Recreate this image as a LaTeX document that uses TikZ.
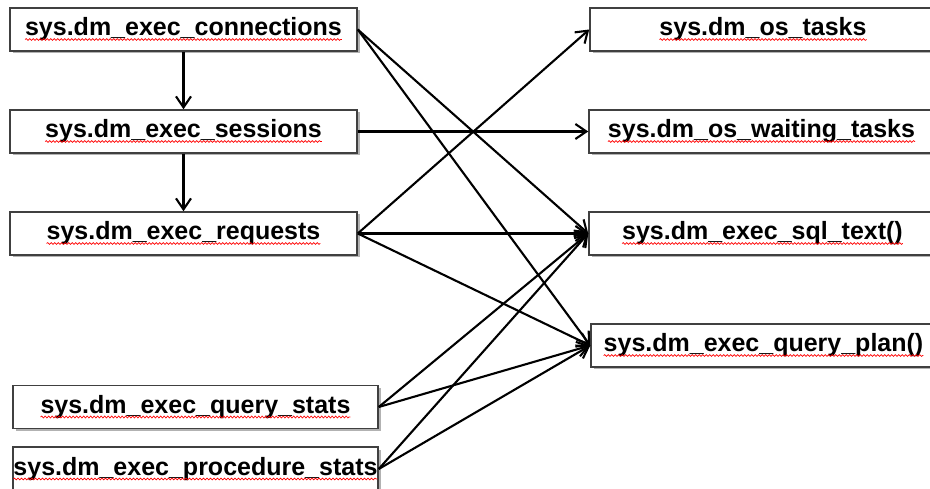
\documentclass[tikz,border=0pt]{standalone}
\usepackage{fontspec}
\setmainfont{Liberation Sans}
\usetikzlibrary{arrows.meta,shadows,decorations.pathmorphing}
\newcommand\wt[2]{\settowidth{\dimen0}{#2}\expandafter\xdef\csname wl#1\endcsname{\the\dimen0}#2}
\tikzset{
  box/.style={draw=black!75, line width=1.5pt, fill=white, minimum height=43pt,
    text height=18pt, text depth=5pt, inner sep=0pt,
    font=\fontsize{25}{30}\selectfont\bfseries,
    drop shadow={shadow xshift=2.5pt,shadow yshift=-2.5pt,opacity=0.3,fill=black}},
  wave/.style={red, line width=0.7pt, decorate,
    decoration={snake,amplitude=0.9pt,segment length=3.5pt}},
  link/.style={line width=2.1pt, -{Straight Barb[length=11pt,width=15pt,line width=2.1pt]}}
}
\begin{document}
\begin{tikzpicture}[x=1pt,y=-1pt]
\clip (0,0) rectangle (930,489);
\fill[white] (0,0) rectangle (930,489);
\node[box, minimum width=347pt] (conn) at (183.5,29.5) {\wt{conn}{sys.dm\_exec\_connections}};
\node[box, minimum width=347pt] (sess) at (183.5,131.5) {\wt{sess}{sys.dm\_exec\_sessions}};
\node[box, minimum width=347pt] (req) at (183.5,233.5) {\wt{req}{sys.dm\_exec\_requests}};
\node[box, minimum width=365pt] (qst) at (195.5,407) {\wt{qst}{sys.dm\_exec\_query\_stats}};
\node[box, minimum width=365pt, minimum height=44pt] (pst) at (195.5,469) {\wt{pst}{sys.dm\_exec\_procedure\_stats}};
\node[box, minimum width=346pt] (ost) at (763,29.5) {\wt{ost}{sys.dm\_os\_tasks}};
\node[box, minimum width=345pt] (wait) at (761.5,131.5) {\wt{wait}{sys.dm\_os\_waiting\_tasks}};
\node[box, minimum width=347pt] (sql) at (762.5,233.5) {\wt{sql}{sys.dm\_exec\_sql\_text()}};
\node[box, minimum width=345pt] (plan) at (763.5,345.5) {\wt{plan}{sys.dm\_exec\_query\_plan()}};
\foreach \n in {conn,sess,req,qst,pst,ost,wait,sql,plan}{
  \draw[wave] ([xshift=-\csname wl\n\endcsname/2, yshift=-3.5pt]\n.base) -- ++(\csname wl\n\endcsname,0pt);
}
\draw[link] (conn) -- (sess);
\draw[link] (sess) -- (req);
\draw[link] (conn.east) -- (sql.west);
\draw[link] (conn.east) -- (plan.west);
\draw[link] (sess.east) -- (wait.west);
\draw[link] (req.east) -- (ost.west);
\draw[link] (req.east) -- (sql.west);
\draw[link] (req.east) -- (plan.west);
\draw[link] (qst.east) -- (sql.west);
\draw[link] (qst.east) -- (plan.west);
\draw[link] (pst.east) -- (sql.west);
\draw[link] (pst.east) -- (plan.west);
\end{tikzpicture}
\end{document}
